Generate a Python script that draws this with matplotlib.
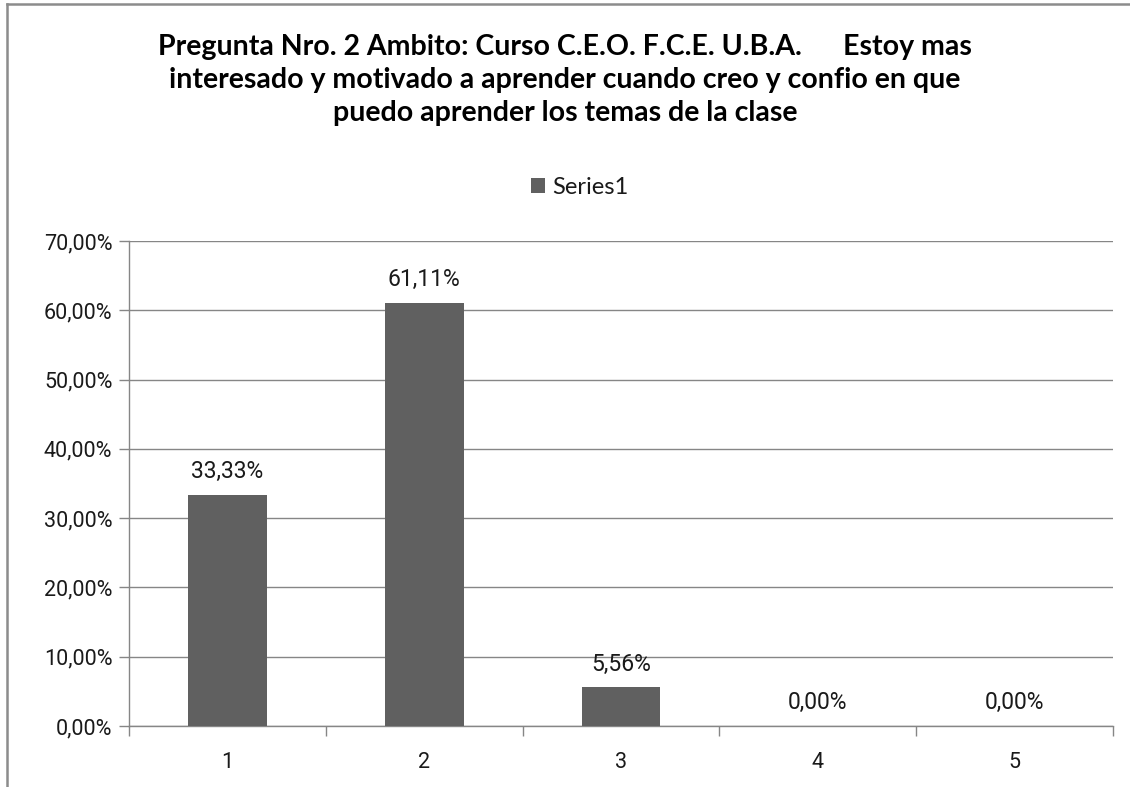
import matplotlib
matplotlib.use("Agg")
import matplotlib.pyplot as plt
from matplotlib.lines import Line2D
from matplotlib.ticker import FuncFormatter, MultipleLocator, FixedLocator

plt.rcParams['font.family'] = ['Lato', 'DejaVu Sans']
NUMFONT = ['Roboto', 'DejaVu Sans']

categories = ["1", "2", "3", "4", "5"]
values = [33.33, 61.11, 5.56, 0.0, 0.0]
series_name = "Series1"
title = ("Pregunta Nro. 2 Ambito: Curso C.E.O. F.C.E. U.B.A.      Estoy mas\n"
         "interesado y motivado a aprender cuando creo y confio en que\n"
         "puedo aprender los temas de la clase")

W, H = 1130, 787
fig = plt.figure(figsize=(W / 100, H / 100), dpi=100)
fig.patch.set_facecolor("white")

# chart frame (left and top edges visible)
fig.add_artist(Line2D([7 / W, 7 / W], [0, 1 - 4 / H], transform=fig.transFigure,
                      color="#8c8c8c", lw=1.8))
fig.add_artist(Line2D([7 / W, 1], [1 - 4 / H, 1 - 4 / H], transform=fig.transFigure,
                      color="#8c8c8c", lw=1.8))

ax = fig.add_axes([129 / W, 1 - 726 / H, (1113 - 129) / W, (726 - 241) / H])
x = list(range(1, len(categories) + 1))
bars = ax.bar(x, values, width=0.4, color="#606060", label=series_name, zorder=3)

ax.set_xlim(0.5, len(categories) + 0.5)
ax.set_ylim(0, 70)
ax.yaxis.set_major_locator(MultipleLocator(10))
ax.yaxis.set_major_formatter(FuncFormatter(lambda v, p: f"{v:.2f}".replace(".", ",") + "%"))
ax.set_xticks(x)
ax.set_xticklabels(categories)
ax.xaxis.set_minor_locator(FixedLocator([i + 0.5 for i in range(len(categories) + 1)]))
ax.tick_params(axis="x", which="major", length=0, pad=19)
ax.tick_params(axis="x", which="minor", length=7, width=1, color="#868686", direction="out")
ax.tick_params(axis="y", length=7, width=1, color="#868686", pad=5)
for lab in ax.get_xticklabels() + ax.get_yticklabels():
    lab.set_color("#1a1a1a")
    lab.set_fontfamily(NUMFONT)
    lab.set_fontsize(15.5)

ax.grid(axis="y", color="#868686", lw=1, zorder=0)
for s in ["top", "right"]:
    ax.spines[s].set_visible(False)
for s in ["left", "bottom"]:
    ax.spines[s].set_color("#868686")
    ax.spines[s].set_linewidth(1)

for xi, v in zip(x, values):
    ax.annotate(f"{v:.2f}".replace(".", ",") + "%", (xi, v), xytext=(0, 8.5),
                textcoords="offset points", ha="center", va="bottom", fontsize=16.5,
                family=NUMFONT, color="#1a1a1a")

fig.text(0.5, 1 - 80 / H, title, ha="center", va="center", fontsize=20.5,
         fontweight="bold", linespacing=1.32, color="black")

leg = fig.legend(handles=[bars], labels=[series_name], loc="center",
                 bbox_to_anchor=(512 / W + 0.06, 1 - 187 / H), frameon=False, fontsize=17,
                 handlelength=0.6, handleheight=0.6, handletextpad=0.3)
for t in leg.get_texts():
    t.set_color("#1a1a1a")

fig.savefig("out.png", dpi=100, facecolor="white")
